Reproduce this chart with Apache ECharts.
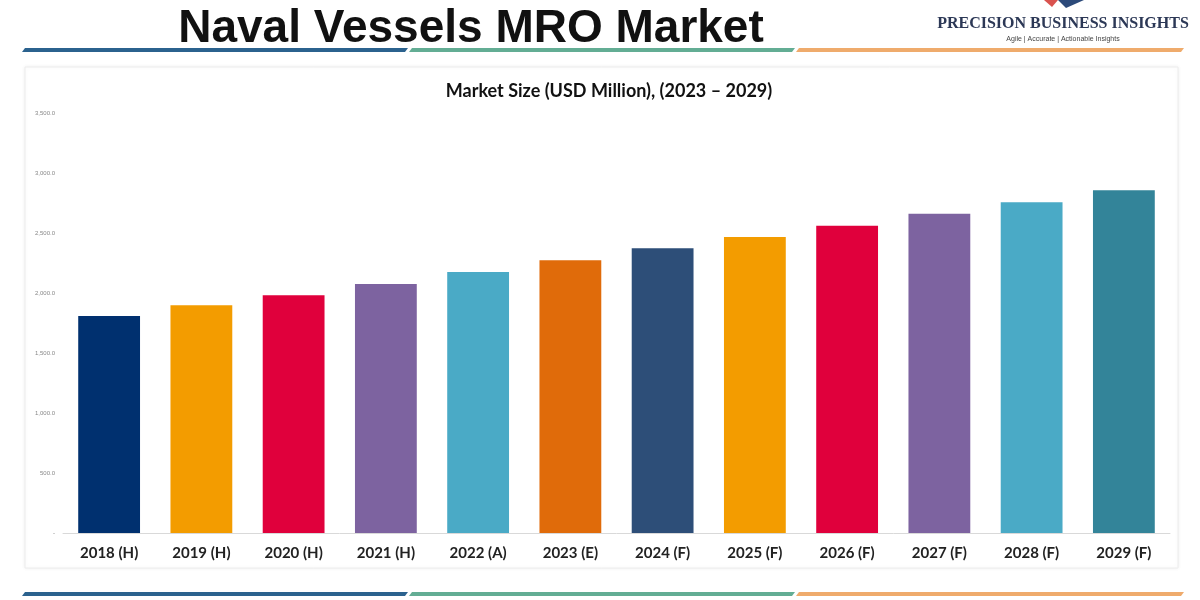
<!DOCTYPE html>
<html>
<head>
<meta charset="utf-8">
<script src="https://cdn.jsdelivr.net/npm/echarts@6/dist/echarts.min.js"></script>
<style>
html,body{margin:0;padding:0;background:#fff;}
#chart{width:1200px;height:600px;}
</style>
</head>
<body>
<div id="chart"></div>
<script>
const categories = ['2018 (H)','2019 (H)','2020 (H)','2021 (H)','2022 (A)','2023 (E)','2024 (F)','2025 (F)','2026 (F)','2027 (F)','2028 (F)','2029 (F)'];
const values = [1808, 1897, 1981, 2075, 2175, 2272, 2372, 2467, 2561, 2661, 2756, 2856];
const barColors = ['#00306f','#f39c00','#e0003c','#7d63a0','#4aaac6','#e06b0a','#2d4e78','#f39c00','#e0003c','#7d63a0','#4aaac6','#338499'];
const yTicks = [0, 500, 1000, 1500, 2000, 2500, 3000, 3500];

const chart = echarts.init(document.getElementById('chart'));

function seg(x1, x2, y, h, color) {
  return {
    type: 'polygon', silent: true,
    shape: { points: [[x1 + 3, y], [x2 + 3, y], [x2, y + h], [x1, y + h]] },
    style: { fill: color }
  };
}

const option = {
  backgroundColor: '#fff',
  animation: false,
  title: [
    { text: 'Naval Vessels MRO Market', left: 466, top: 1, textAlign: 'center',
      textStyle: { fontFamily: 'Liberation Sans, Arial, sans-serif', fontWeight: 'bold', fontSize: 46, color: '#111' } },
    { text: 'Market Size (USD Million), (2023 – 2029)', left: 604, top: 77, textAlign: 'center',
      textStyle: { fontFamily: 'Lato, Noto Sans, sans-serif', fontWeight: 'bold', fontSize: 18, color: '#111' } }
  ],
  graphic: [
    { type: 'rect', silent: true, z: -1, shape: { x: 25, y: 67, width: 1153, height: 501 },
      style: { fill: '#fff', stroke: '#ececec', lineWidth: 1, shadowBlur: 4, shadowColor: 'rgba(0,0,0,0.06)' } },
    seg(22, 405, 48, 4, '#2b628e'),
    seg(409, 792, 48, 4, '#63ad94'),
    seg(796, 1181, 48, 4, '#efab6c'),
    seg(22, 405, 592, 4, '#2b628e'),
    seg(409, 792, 592, 4, '#63ad94'),
    seg(796, 1181, 592, 4, '#efab6c'),
    { type: 'text', silent: true, style: { text: 'PRECISION BUSINESS INSIGHTS', x: 1063, y: 16, align: 'center',
      font: 'bold 16px "Liberation Serif", "DejaVu Serif", serif', fill: '#2c3856' } },
    { type: 'text', silent: true, style: { text: 'Agile | Accurate | Actionable Insights', x: 1063, y: 36, align: 'center',
      font: '7px "Liberation Sans", Arial, sans-serif', fill: '#444' } },
    { type: 'polygon', silent: true, shape: { points: [[1044, 0], [1058, 0], [1052, 7]] }, style: { fill: '#d9534f' } },
    { type: 'polygon', silent: true, shape: { points: [[1058, 0], [1084, 0], [1066, 8]] }, style: { fill: '#2c4a7a' } }
  ],
  grid: { left: 63, right: 30, top: 113, bottom: 67, containLabel: false },
  xAxis: {
    type: 'category', data: categories,
    axisLine: { lineStyle: { color: '#d9d9d9' } },
    axisTick: { show: false },
    axisLabel: { margin: 13, fontFamily: 'Lato, Noto Sans, sans-serif', fontWeight: 'bold', fontSize: 15, color: '#222' }
  },
  yAxis: {
    type: 'value', min: 0, max: 3500, interval: 500,
    splitLine: { show: false },
    axisLine: { show: false }, axisTick: { show: false },
    axisLabel: {
      margin: 8, fontSize: 6, color: '#888', fontFamily: 'Liberation Sans, Arial, sans-serif',
      formatter: function (v) {
        if (yTicks.indexOf(v) < 0) return '';
        if (v === 0) return '-';
        return v.toLocaleString('en-US', { minimumFractionDigits: 1, maximumFractionDigits: 1 });
      }
    }
  },
  series: [{
    type: 'bar', data: values.map((v, i) => ({ value: v, itemStyle: { color: barColors[i] } })),
    barCategoryGap: '33%'
  }]
};
chart.setOption(option);
</script>
</body>
</html>
